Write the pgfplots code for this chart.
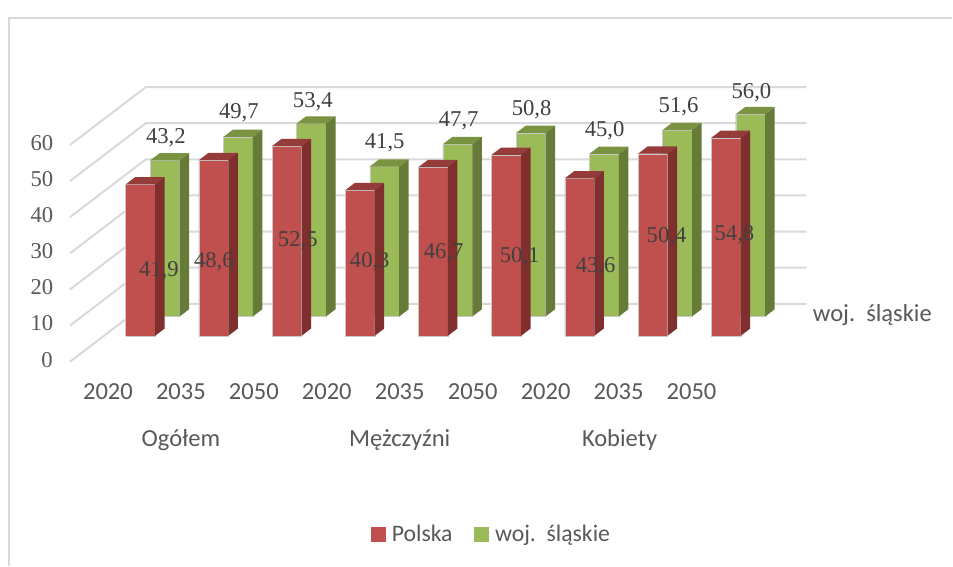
\documentclass[border=0pt]{standalone}
\usepackage{pgfplots}
\pgfplotsset{compat=1.18}
\usepackage{fontspec}
\setmainfont{Liberation Serif}
\newfontfamily\calfont{Carlito}
\definecolor{grid}{HTML}{D9D9D9}
\definecolor{rf}{HTML}{C0504D}
\definecolor{rt}{HTML}{953C3A}
\definecolor{rs}{HTML}{7F2F2E}
\definecolor{gf}{HTML}{9BBB59}
\definecolor{gt}{HTML}{7A9340}
\definecolor{gs}{HTML}{657B37}
\definecolor{numtxt}{HTML}{404040}
\definecolor{axtxt}{HTML}{595959}
\definecolor{edge}{HTML}{C8C8C8}
% one 3-D bar: {left X}{depth of the front}{value}{front}{top}{side}
\newcommand{\cub}[6]{%
  \pgfmathsetmacro\xa{#1}\pgfmathsetmacro\xb{#1+29.5}%
  \pgfmathsetmacro\ta{#2}\pgfmathsetmacro\tb{#2+0.125}%
  \edef\tmp{\noexpand\addplot3[forget plot,no markers,draw=edge,line width=0.25pt,fill=#4] coordinates {(\xa,\ta,0) (\xb,\ta,0) (\xb,\ta,#3) (\xa,\ta,#3) (\xa,\ta,0)};
  \noexpand\addplot3[forget plot,no markers,draw=none,fill=#5] coordinates {(\xa,\ta,#3) (\xb,\ta,#3) (\xb,\tb,#3) (\xa,\tb,#3) (\xa,\ta,#3)};
  \noexpand\addplot3[forget plot,no markers,draw=none,fill=#6] coordinates {(\xb,\ta,0) (\xb,\tb,0) (\xb,\tb,#3) (\xb,\ta,#3) (\xb,\ta,0)};}\tmp}
\newcommand{\redbar}[2]{\cub{91.7+73.25*#1}{0.448}{#2}{rf}{rt}{rs}}
\newcommand{\grnbar}[2]{\cub{90.9+73.25*#1}{0.781}{#2}{gf}{gt}{gs}}
\newcommand{\gridl}[1]{\addplot3[forget plot,no markers,draw=grid,line width=1.5pt] coordinates {(70,0,#1) (70,1,#1) (731,1,#1)};}
\newcommand{\lab}[3]{\node[anchor=center,inner sep=0pt,text=numtxt,font=\fontsize{17}{20}\selectfont] at (axis cs:#1,0,{(362-#2)/3.615}) {#3};}
\newcommand{\ylab}[3]{\node[anchor=center,inner sep=0pt,text=axtxt,font=\fontsize{17}{20}\selectfont] at (axis cs:#1,0,{(362-#2)/3.615}) {#3};}
\newcommand{\clab}[3]{\node[anchor=center,inner sep=0pt,text=axtxt,font=\calfont\fontsize{18.4}{22}\selectfont] at (axis cs:#1,0,{(362-#2)/3.615}) {#3};}
\begin{document}
\begin{tikzpicture}
\begin{axis}[
  hide axis, clip=false,
  x={(0.75pt,0pt)}, y={(57pt,43.5pt)}, z={(0pt,2.71125pt)},
  xmin=0, xmax=877, ymin=0, ymax=1, zmin=-56.43, zmax=84.13,
  legend columns=2,
  legend style={draw=none,fill=none,font=\calfont\fontsize{17.8}{22}\selectfont,text=axtxt,
    at={(axis cs:492,0,{(362-535)/3.615})},anchor=center,/tikz/every even column/.append style={column sep=14pt}},
]
\addlegendimage{legend image code/.code={\fill[white] (10.5pt,-1pt) rectangle (13.5pt,1pt);\fill[rf] (0pt,-5.25pt) rectangle (10.5pt,5.25pt);}}\addlegendentry{Polska}
\addlegendimage{legend image code/.code={\fill[white] (10.5pt,-1pt) rectangle (13.5pt,1pt);\fill[gf] (0pt,-5.25pt) rectangle (10.5pt,5.25pt);}}\addlegendentry{woj.\ \ śląskie}
% page and frame
\addplot3[forget plot,no markers,draw=none,fill=white] coordinates {(0,0,-56.43) (953,0,-56.43) (953,0,100.14) (0,0,100.14) (0,0,-56.43)};
\addplot3[forget plot,no markers,draw=grid,line width=1pt] coordinates {(9,0,-56.43) (9,0,95.2) (953,0,95.2)};
% gridlines
\gridl{0}\gridl{10}\gridl{20}\gridl{30}\gridl{40}\gridl{50}\gridl{60}
% woj. śląskie
\grnbar{0}{43.2}\grnbar{1}{49.7}\grnbar{2}{53.4}\grnbar{3}{41.5}\grnbar{4}{47.7}\grnbar{5}{50.8}\grnbar{6}{45.0}\grnbar{7}{51.6}\grnbar{8}{56.0}
% Polska
\redbar{0}{41.9}\redbar{1}{48.6}\redbar{2}{52.5}\redbar{3}{40.3}\redbar{4}{46.7}\redbar{5}{50.1}\redbar{6}{43.6}\redbar{7}{50.4}\redbar{8}{54.8}
% value labels
\lab{166}{138}{43,2}\lab{239}{113}{49,7}\lab{313}{102}{53,4}\lab{385}{143}{41,5}\lab{459}{121}{47,7}\lab{532}{110}{50,8}\lab{605}{131}{45,0}\lab{679}{107}{51,6}\lab{752}{93}{56,0}
\lab{159}{271}{41,9}\lab{214}{262}{48,6}\lab{298}{241}{52,5}\lab{370}{262}{40,3}\lab{444}{253}{46,7}\lab{520}{257}{50,1}\lab{596}{267}{43,6}\lab{667}{237}{50,4}\lab{735}{235}{54,8}
% axis labels
\ylab{42}{143}{60}\ylab{42}{179}{50}\ylab{42}{215}{40}\ylab{42}{251}{30}\ylab{42}{287}{20}\ylab{42}{323}{10}\ylab{47}{360}{0}
\clab{108}{392}{2020}\clab{181}{392}{2035}\clab{254}{392}{2050}\clab{327}{392}{2020}\clab{400}{392}{2035}\clab{473}{392}{2050}\clab{546}{392}{2020}\clab{619}{392}{2035}\clab{692}{392}{2050}
\clab{181}{440}{Ogółem}\clab{400}{440}{Mężczyźni}\clab{620}{440}{Kobiety}
\clab{873}{315}{woj.\ \ śląskie}
\end{axis}
\end{tikzpicture}
\end{document}
